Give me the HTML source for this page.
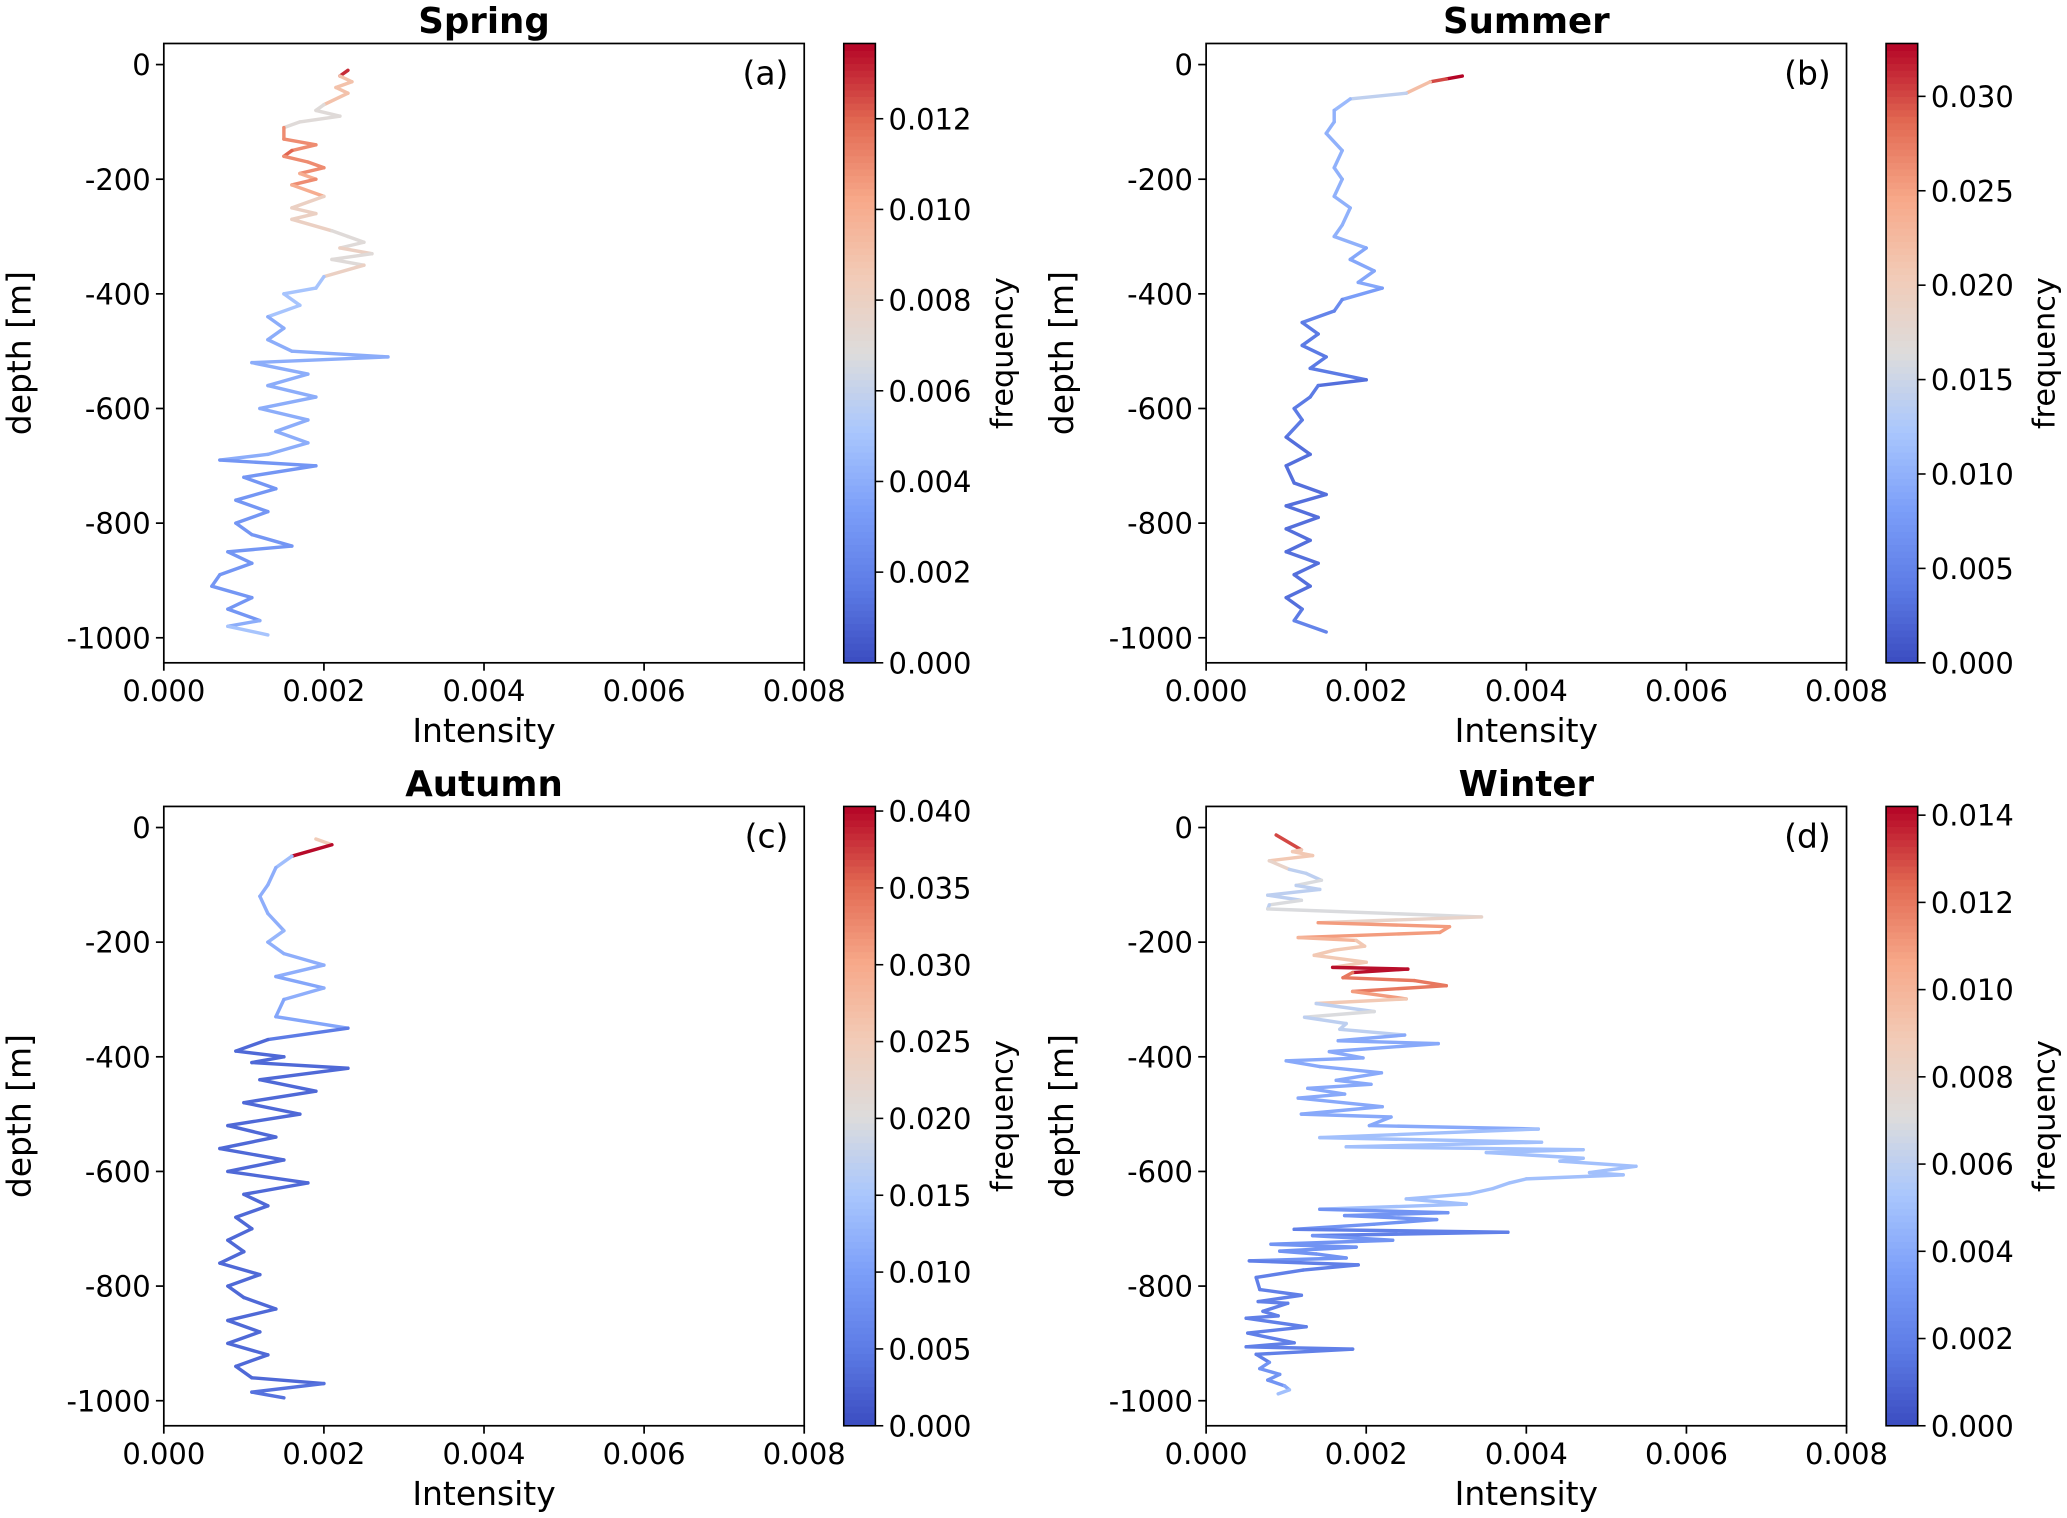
<!DOCTYPE html>
<html><head><meta charset="utf-8"><style>
html,body{margin:0;padding:0;background:#fff}
svg{display:block}
text{font-family:"DejaVu Sans","Liberation Sans",sans-serif;fill:#000}
</style></head><body>
<svg id="fig" width="2067" height="1518" viewBox="0 0 1568 1152" xmlns="http://www.w3.org/2000/svg"></svg>
<script>
// ---------- data ----------
const springDepth=[10,20,30,40,50,70,80,90,100,110,130,140,150,160,170,180,190,200,210,230,250,260,270,290,300,310,320,330,340,350,370,390,400,420,440,460,480,500,510,520,540,560,580,600,620,640,660,680,690,700,720,740,760,780,800,820,840,850,870,890,910,930,950,970,980,995];
const springInt=[2.3,2.2,2.35,2.15,2.3,2.0,1.9,2.2,1.7,1.5,1.5,1.9,1.6,1.5,1.8,2.0,1.7,1.9,1.6,2.0,1.6,1.9,1.6,2.1,2.3,2.5,2.2,2.6,2.1,2.5,2.0,1.9,1.5,1.7,1.3,1.5,1.3,1.6,2.8,1.1,1.8,1.3,1.9,1.2,1.8,1.4,1.8,1.3,0.7,1.9,1.0,1.4,0.9,1.3,0.9,1.1,1.6,0.8,1.1,0.7,0.6,1.1,0.8,1.2,0.8,1.3];
const springFreq=[13,9,9,9,9,7,7,7,7,11,11,11,12,11,11,11,10,11,10,8,8,8,8,7,7,7,8,7,7,8,5,5,5,5,4,4,4,4,4,4,4,4,4,4,4,4,4,4,3,3,3,3,3,3,3,3,3,3,3,3,3,3,3,4,5,5];

const summerDepth=[20,25,30,50,60,80,100,120,150,180,200,230,250,280,300,320,340,360,380,390,410,430,450,470,490,510,530,550,560,580,600,620,650,680,700,730,750,770,790,810,830,850,870,890,910,930,950,970,990];
const summerInt=[3.2,3.0,2.8,2.5,1.8,1.6,1.6,1.5,1.7,1.6,1.7,1.6,1.8,1.7,1.6,2.0,1.8,2.1,1.9,2.2,1.7,1.6,1.2,1.4,1.2,1.5,1.3,2.0,1.4,1.3,1.1,1.2,1.0,1.3,1.0,1.1,1.5,1.0,1.4,1.0,1.3,1.0,1.4,1.1,1.3,1.0,1.2,1.1,1.5];
const summerFreq=[33,30,22,14,11,10,10,10,10,10,10,10,10,10,10,9,9,9,9,8,6,5,4,4,4,4,4,3,4,4,4,4,3,3,3,3,3,3,3,3,3,3,3,3,3,3,4,5,8];

const autumnDepth=[20,30,50,70,100,120,150,180,200,220,240,260,280,300,330,350,370,390,400,410,420,440,460,480,500,520,540,560,580,600,620,640,660,680,700,720,740,760,780,800,820,840,860,880,900,920,940,960,970,985,995];
const autumnInt=[1.9,2.1,1.6,1.4,1.3,1.2,1.3,1.5,1.3,1.5,2.0,1.4,2.0,1.5,1.4,2.3,1.3,0.9,1.5,1.1,2.3,1.2,1.9,1.0,1.7,0.8,1.4,0.7,1.5,0.8,1.8,1.0,1.3,0.9,1.1,0.8,1.0,0.7,1.2,0.8,1.0,1.4,0.8,1.2,0.8,1.3,0.9,1.1,2.0,1.1,1.5];
const autumnFreq=[25,40,14,12,12,12,12,13,12,12,12,11,12,11,11,5,3,3,3,3,3,3,3,3,3,3,3,3,3,3,3,3,3,3,3,3,3,3,3,3,3,3,3,3,3,3,3,3,4,4,8];

const winterDepth=[13,39,42,49,58,73,80,92,101,108,118,127,135,142,156,166,173,183,192,197,207,214,223,235,244,247,253,262,267,276,286,299,307,321,331,342,352,362,372,377,391,402,407,417,428,441,448,455,465,472,487,500,505,520,526,541,549,557,562,567,577,582,591,602,606,613,620,630,639,648,657,666,672,677,684,692,701,706,712,720,727,732,739,744,751,756,763,772,785,806,816,827,830,844,852,856,871,882,899,906,910,919,933,944,954,964,974,981,988];
const winterInt=[0.875,1.19,1.08,1.33,0.79,1.04,1.25,1.44,1.125,1.42,0.77,1.19,0.79,0.77,3.44,1.4,3.04,2.92,1.15,1.875,1.98,1.6,1.35,2.0,1.58,2.52,1.83,1.71,2.6,3.0,1.83,2.5,1.375,2.1,1.23,1.75,1.67,2.48,1.65,2.9,1.54,1.96,1.0,1.42,2.19,1.625,2.06,1.27,1.73,1.15,2.2,1.19,2.31,2.04,4.15,1.42,4.19,1.75,4.71,3.5,4.71,4.42,5.37,4.79,5.21,4.0,3.79,3.58,3.29,2.5,3.25,1.42,3.02,1.73,2.88,2.1,1.1,3.77,1.33,2.33,0.81,1.875,0.92,1.375,1.75,0.54,1.9,1.21,0.625,0.67,1.19,0.65,1.02,0.71,0.9,0.5,1.25,0.52,1.1,0.5,1.83,0.625,0.79,0.67,0.92,0.77,0.98,1.04,0.9];
const winterFreq=[13,9,9,9,8,6,6,7,6,6,6,7,6,7,8,11,11,11,10,9,9,9,9,9,14,14,12,12,12,12,11,9,6,7,6,6,6,4,4,4,4,4,4,4,4,4,4,4,4,4,4,4,4,4,5,5,5,5,5,5,5,5,5,5,5,5,5,5,5,5,5,3,3,3,3,3,2,2,3,3,3,3,3,3,3,2,2,2,2,2,2,2,2,2,2,2,2,2,2,2,2,2,3,3,3,3,4,5,6];

const xTicks=[0,0.002,0.004,0.006,0.008];
const xTickLabels=["0.000","0.002","0.004","0.006","0.008"];
const yTicks=[0,-200,-400,-600,-800,-1000];
const cbTicksA=[0,0.002,0.004,0.006,0.008,0.010,0.012];
const cbTicksB=[0,0.005,0.010,0.015,0.020,0.025,0.030];
const cbTicksC=[0,0.005,0.010,0.015,0.020,0.025,0.030,0.035,0.040];
const cbTicksD=[0,0.002,0.004,0.006,0.008,0.010,0.012,0.014];

// ---------- drawing ----------
const NS="http://www.w3.org/2000/svg";
const svg=document.getElementById('fig');
function mk(tag,attrs,parent){const e=document.createElementNS(NS,tag);for(const k in attrs)e.setAttribute(k,attrs[k]);(parent||svg).appendChild(e);return e;}
const stops=[[0,[59,76,192]],[0.125,[93,124,230]],[0.25,[124,159,249]],[0.375,[170,199,253]],[0.5,[221,220,220]],[0.625,[242,203,183]],[0.75,[247,168,137]],[0.875,[226,105,82]],[1,[180,4,38]]];
function cmap(t){t=Math.max(0,Math.min(1,t));for(let i=1;i<stops.length;i++){if(t<=stops[i][0]){const a=stops[i-1],b=stops[i];const f=(t-a[0])/(b[0]-a[0]);const c=a[1].map((v,j)=>Math.round(v+(b[1][j]-v)*f));return `rgb(${c[0]},${c[1]},${c[2]})`;}}return 'rgb(180,4,38)';}

function panel(o){
  const L=o.x0,R=o.x0+486,T=o.y0,B=o.y0+470;
  const xs=v=>L+v/0.008*486;
  const ys=d=>T+16+(-d)*0.435;
  const g=mk('g',{});
  
  
  const t=mk('text',{x:(L+R)/2,y:T-8,'text-anchor':'middle','font-size':27,'font-weight':'bold'},g);t.textContent=o.title;
  
  const sg=mk('g',{},g);
  
  for(let i=0;i<o.depth.length-1;i++){
    const s=mk('line',{x1:xs(o.int[i]*1e-3),y1:ys(-o.depth[i]),x2:xs(o.int[i+1]*1e-3),y2:ys(-o.depth[i+1]),stroke:cmap(o.freq[i]*1e-3/o.fmax),'stroke-width':2.6,'stroke-linecap':'round'},sg);
    
    
  }
  const fr=mk('rect',{x:L,y:T,width:R-L,height:B-T,fill:'none',stroke:'#000','stroke-width':1.3},g);
  
  xTicks.forEach((v,i)=>{
    const x=xs(v);mk('line',{x1:x,y1:B,x2:x,y2:B+6,stroke:'#000','stroke-width':1.3},g);
    const tl=mk('text',{x:x,y:B+29,'text-anchor':'middle','font-size':22},g);tl.textContent=xTickLabels[i];
    
  });
  yTicks.forEach(v=>{
    const y=ys(v);mk('line',{x1:L,y1:y,x2:L-6,y2:y,stroke:'#000','stroke-width':1.3},g);
    const tl=mk('text',{x:L-10,y:y+8,'text-anchor':'end','font-size':22},g);tl.textContent=String(v);
    
  });
  const xl=mk('text',{x:(L+R)/2,y:B+60,'text-anchor':'middle','font-size':25},g);xl.textContent='Intensity';
  
  const yl=mk('text',{x:0,y:0,'text-anchor':'middle','font-size':25,transform:`translate(${L-101},${(T+B)/2}) rotate(-90)`},g);yl.textContent='depth [m]';
  
  const pl=mk('text',{x:R-12,y:T+31,'text-anchor':'end','font-size':25},g);pl.textContent=o.label;
  
  const cx=o.cbx,cw=24;
  const cg=mk('g',{},g);
  
  const n=94;for(let k=0;k<n;k++){const y1=B-(k+1)*(B-T)/n;mk('rect',{x:cx,y:y1,width:cw,height:(B-T)/n+0.6,fill:cmap((k+0.5)/n),stroke:'none'},cg);}
  mk('rect',{x:cx,y:T,width:cw,height:B-T,fill:'none',stroke:'#000','stroke-width':1.2},cg);
  o.cbTicks.forEach(v=>{
    const y=B-v/o.fmax*(B-T);mk('line',{x1:cx+cw,y1:y,x2:cx+cw+6,y2:y,stroke:'#000','stroke-width':1.2},cg);
    const tl=mk('text',{x:cx+cw+10,y:y+8,'font-size':22},cg);tl.textContent=v.toFixed(3);
    
  });
  const cl=mk('text',{x:0,y:0,'text-anchor':'middle','font-size':23,transform:`translate(${cx+cw+104},${(T+B)/2}) rotate(-90)`},cg);cl.textContent='frequency';
  
}
panel({name:'spring',title:'Spring',label:'(a)',x0:124,y0:33,cbx:640,depth:springDepth,int:springInt,freq:springFreq,fmax:0.01366,cbTicks:cbTicksA});
panel({name:'summer',title:'Summer',label:'(b)',x0:915,y0:33,cbx:1431,depth:summerDepth,int:summerInt,freq:summerFreq,fmax:0.0328,cbTicks:cbTicksB});
panel({name:'autumn',title:'Autumn',label:'(c)',x0:124,y0:612,cbx:640,depth:autumnDepth,int:autumnInt,freq:autumnFreq,fmax:0.0403,cbTicks:cbTicksC});
panel({name:'winter',title:'Winter',label:'(d)',x0:915,y0:612,cbx:1431,depth:winterDepth,int:winterInt,freq:winterFreq,fmax:0.0142,cbTicks:cbTicksD});
</script>
</body></html>
